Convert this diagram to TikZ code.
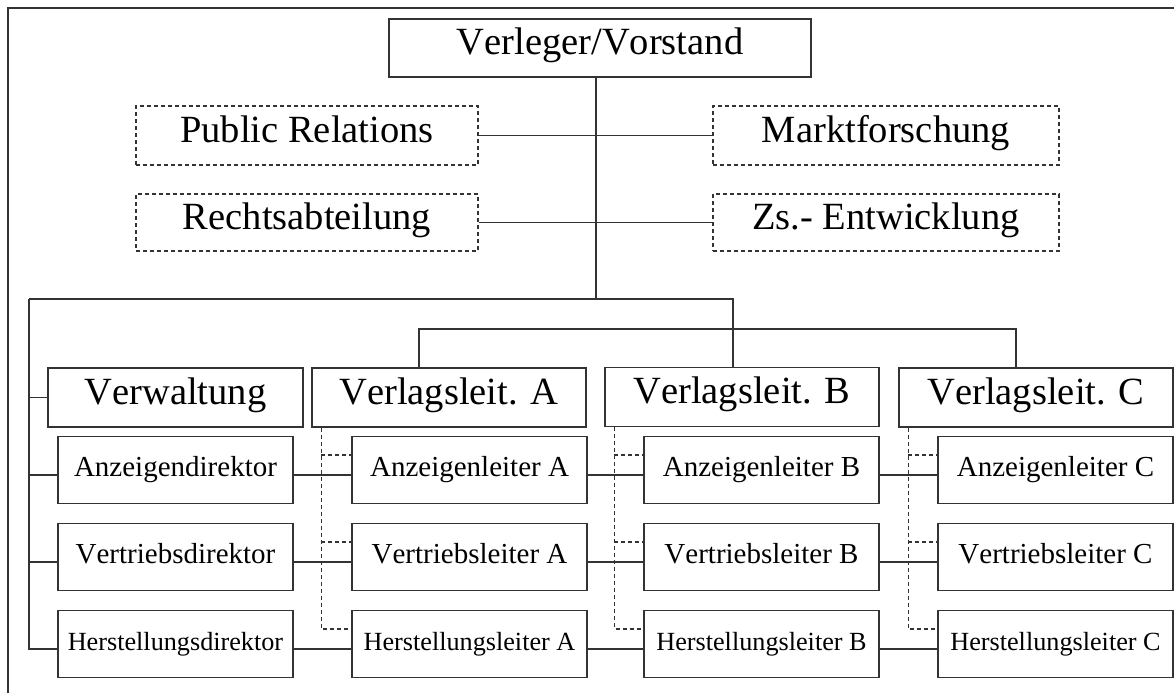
\documentclass[tikz,border=0pt]{standalone}
\usepackage{fontspec}
\setmainfont[Kerning=Off]{Liberation Serif}
\begin{document}
\begin{tikzpicture}[x=0.5pt,y=-0.5pt,
  line width=0.7pt,
  every node/.style={inner sep=0pt,text=black,text height=0.68em,text depth=0em},
  solidbox/.style={draw=black!80,line width=0.7pt},
  dashbox/.style={draw=black!80,line width=0.7pt,dash pattern=on 2pt off 1.5pt},
  bigtxt/.style={font=\fontsize{19.25pt}{22pt}\selectfont},
  midtxt/.style={font=\fontsize{14.5pt}{17pt}\selectfont},
  smltxt/.style={font=\fontsize{13.1pt}{16pt}\selectfont},
  wire/.style={draw=black!80,line width=0.7pt},
  dwire/.style={draw=black!80,line width=0.7pt,dash pattern=on 2pt off 1.5pt},
  rowbox/.style={solidbox,minimum width=117.5pt,minimum height=33.5pt}
]
\useasboundingbox (0,0) rectangle (1174,693);
\draw[wire] (8,693) -- (8,8) -- (1174,8);

% top
\node[solidbox,bigtxt,minimum width=211pt,minimum height=29pt] (VV) at (600,48) {Verleger/Vorstand};
\node[dashbox,bigtxt,minimum width=171pt,minimum height=29.5pt] (PR) at (307,135.5) {Public Relations};
\node[dashbox,bigtxt,minimum width=173pt,minimum height=29.5pt] (MF) at (886,135.5) {Marktforschung};
\node[dashbox,bigtxt,minimum width=171pt,minimum height=28.5pt] (RA) at (307,222.5) {Rechtsabteilung};
\node[dashbox,bigtxt,minimum width=173pt,minimum height=28.5pt] (ZE) at (886,222.5) {Zs.- Entwicklung};

% second level
\node[solidbox,bigtxt,minimum width=127.5pt,minimum height=29.5pt] (VW) at (175.5,397.5) {Verwaltung};
\node[solidbox,bigtxt,minimum width=137pt,minimum height=29.5pt] (VA) at (449,397.5) {Verlagsleit. A};
\node[solidbox,bigtxt,minimum width=137pt,minimum height=29.5pt] (VB) at (742,397) {Verlagsleit. B};
\node[solidbox,bigtxt,minimum width=137pt,minimum height=29.5pt] (VC) at (1036,397.5) {Verlagsleit. C};

% rows
\node[rowbox,midtxt] (DA) at (175.5,470) {Anzeigendirektor};
\node[rowbox,midtxt] (DV) at (175.5,557) {Vertriebsdirektor};
\node[rowbox,smltxt] (DH) at (175.5,644) {Herstellungsdirektor};
\node[rowbox,midtxt] (AA) at (469.5,470) {Anzeigenleiter A};
\node[rowbox,midtxt] (VtA) at (469.5,557) {Vertriebsleiter A};
\node[rowbox,smltxt] (HA) at (469.5,644) {Herstellungsleiter A};
\node[rowbox,midtxt] (AB) at (761.5,470) {Anzeigenleiter B};
\node[rowbox,midtxt] (VtB) at (761.5,557) {Vertriebsleiter B};
\node[rowbox,smltxt] (HB) at (761.5,644) {Herstellungsleiter B};
\node[rowbox,midtxt] (AC) at (1055.5,470) {Anzeigenleiter C};
\node[rowbox,midtxt] (VtC) at (1055.5,557) {Vertriebsleiter C};
\node[rowbox,smltxt] (HC) at (1055.5,644) {Herstellungsleiter C};

% junctions
\coordinate (j1) at (596,299);
\coordinate (jL) at (29,299);
\coordinate (j2) at (733,299);
\coordinate (jA) at (419,329);
\coordinate (jC) at (1016,329);

\draw[wire] (VV.south -| j1) -- (j1);
\draw[wire] (PR.east) -- (MF.west);
\draw[wire] (RA.east) -- (ZE.west);
\draw[wire] (jL) -- (j2) -- (j2 |- VB.north);
\draw[wire] (jA |- VA.north) -- (jA) -- (jC) -- (jC |- VC.north);

% left tree
\coordinate (rDA) at ([yshift=-2.5pt]DA.west);
\coordinate (rDV) at ([yshift=-2.5pt]DV.west);
\coordinate (rDH) at ([yshift=-2.5pt]DH.west);
\draw[wire] (jL) |- (rDH);
\draw[wire] (jL |- VW.west) -- (VW.west);
\draw[wire] (jL |- rDA) -- (rDA);
\draw[wire] (jL |- rDV) -- (rDV);

% row connectors
\foreach \l/\r in {DA/AA,AA/AB,AB/AC,DV/VtA,VtA/VtB,VtB/VtC,DH/HA,HA/HB,HB/HC}{
  \draw[wire] ([yshift=-2.5pt]\l.east) -- ([yshift=-2.5pt]\r.west);
}

% dashed staff lines
\foreach \c in {A,B,C}{
  \coordinate (d\c) at ([xshift=5pt]V\c.south west);
  \coordinate (a\c) at ([yshift=-9.5pt]A\c.north west);
  \coordinate (v\c) at ([yshift=-9.5pt]Vt\c.north west);
  \coordinate (h\c) at ([yshift=-9.5pt]H\c.north west);
  \draw[dwire] (d\c) |- (h\c);
  \draw[dwire] (d\c |- a\c) -- (a\c);
  \draw[dwire] (d\c |- v\c) -- (v\c);
}
\end{tikzpicture}
\end{document}
